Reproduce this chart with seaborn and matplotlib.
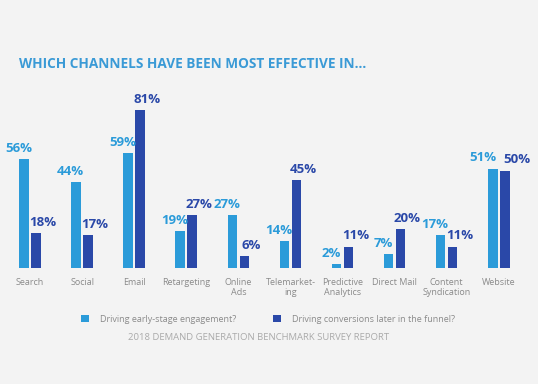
import matplotlib
matplotlib.use("Agg")
import matplotlib.pyplot as plt
import seaborn as sns
import pandas as pd
from matplotlib.patches import Patch

channels = ["Search", "Social", "Email", "Retargeting", "Online\nAds", "Telemarket-\ning",
            "Predictive\nAnalytics", "Direct Mail", "Content\nSyndication", "Website"]
early = [56, 44, 59, 19, 27, 14, 2, 7, 17, 51]
later = [18, 17, 81, 27, 6, 45, 11, 20, 11, 50]
series = ["Driving early-stage engagement?", "Driving conversions later in the funnel?"]
colors = ["#2b9bd9", "#2a48a8"]

df = pd.DataFrame({
    "channel": channels * 2,
    "value": early + later,
    "series": [series[0]] * len(channels) + [series[1]] * len(channels),
})

sns.set_style("white")
plt.rcParams["font.family"] = ["Open Sans", "DejaVu Sans"]
bg = "#f3f3f3"

fig = plt.figure(figsize=(5.38, 3.84), dpi=100, facecolor=bg)
ax = fig.add_axes([0.0074, 0.302, 0.968, 0.457], facecolor=bg)

sns.barplot(data=df, x="channel", y="value", hue="series", palette=colors,
            width=0.46, gap=0.2, saturation=1, linewidth=0, edgecolor="none",
            legend=False, ax=ax)

# value labels above the bars, nudged apart so pairs don't collide
for i, (cont, col) in enumerate(zip(ax.containers, colors)):
    for j, (rect, v) in enumerate(zip(cont, cont.datavalues)):
        close = abs(early[j] - later[j]) < 5
        if i == 0:
            dx = -7 if close else -4
        else:
            dx = 9 if close else 5
        ax.annotate(f"{int(v)}%", (rect.get_x() + rect.get_width() / 2, v),
                    xytext=(dx, 3), textcoords="offset points", ha="center",
                    va="bottom", color=col, fontsize=9.5, fontweight="bold")

ax.set_ylim(0, 90)
ax.set_xlim(-0.5, 9.5)
ax.set_xlabel("")
ax.set_ylabel("")
ax.set_yticks([])
ax.tick_params(axis="x", length=0, pad=7, labelsize=6.5, labelcolor="#8a8a8a")
for s in ax.spines.values():
    s.set_visible(False)

fig.text(0.035, 0.833, "WHICH CHANNELS HAVE BEEN MOST EFFECTIVE IN...",
         color="#3a9ad6", fontsize=9.8, fontweight="bold", va="center")

handles = [Patch(facecolor=c, edgecolor="none") for c in colors]
fig.legend(handles, series, loc="center left", bbox_to_anchor=(0.135, 0.169),
           ncol=2, frameon=False, fontsize=6.5, labelcolor="#8a8a8a",
           handlelength=0.9, handleheight=0.9, columnspacing=4.1, handletextpad=1.2)

fig.text(0.48, 0.122, "2018 DEMAND GENERATION BENCHMARK SURVEY REPORT",
         color="#aaaaaa", fontsize=6.8, ha="center", va="center")

fig.savefig("out.png", dpi=100, facecolor=bg)
